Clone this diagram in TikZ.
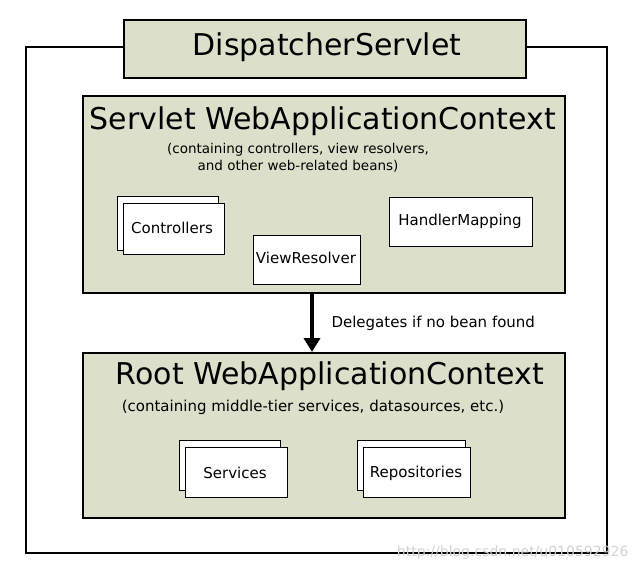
\documentclass[tikz,border=0pt]{standalone}
\usepackage{fontspec}
\setmainfont{DejaVu Sans}
\usetikzlibrary{arrows.meta}
\definecolor{ctx}{HTML}{DCE0CB}
\begin{document}
\begin{tikzpicture}[x=1pt,y=-1pt,
  box/.style={draw=black,line width=1.5pt,fill=ctx},
  bean/.style={draw=black,line width=0.9pt,fill=white},
  btxt/.style={font=\fontsize{15}{17}\selectfont}]
\useasboundingbox (0,0) rectangle (641,574);
\draw[line width=1.5pt] (26,47) rectangle (607,553);
\draw[box] (124,20) rectangle (526,78);
\node (ds) at (327,47) {\fontsize{30}{33}\selectfont DispatcherServlet};
\draw[box] (83,96) rectangle (565,293);
\node (swc) at (323,121) {\fontsize{30}{33}\selectfont Servlet WebApplicationContext};
\node[align=center,font=\fontsize{13.5}{17}\selectfont] (swcs) at (298,158) {(containing controllers, view resolvers,\\and other web-related beans)};
\draw[bean] (117,196) rectangle (218,250);
\draw[bean] (123,203) rectangle (224,254);
\node[btxt] (ctl) at (172,228) {Controllers};
\draw[bean] (253,235) rectangle (360,284);
\node[btxt] (vr) at (306,258) {ViewResolver};
\draw[bean] (389,197) rectangle (532,246);
\node[btxt] (hm) at (460,221) {HandlerMapping};
\draw[box] (83,353) rectangle (565,518);
\node (rwc) at (330,376) {\fontsize{30}{33}\selectfont Root WebApplicationContext};
\node[font=\fontsize{15}{17}\selectfont] (rwcs) at (313,407) {(containing middle-tier services, datasources, etc.)};
\draw[bean] (179,440) rectangle (280,490);
\draw[bean] (185,447) rectangle (287,497);
\node[btxt] (sv) at (235,473) {Services};
\draw[bean] (357,440) rectangle (465,490);
\draw[bean] (363,447) rectangle (470,497);
\node[btxt] (rp) at (416,473) {Repositories};
\coordinate (a1) at (312,294);
\coordinate (a2) at (312,352);
\draw[line width=4pt,-{Triangle[length=14pt,width=16pt]}] (a1) -- (a2);
\node[anchor=west,font=\fontsize{15}{17}\selectfont] (dl) at (328,323) {Delegates if no bean found};
\node[anchor=east,text=gray!35,font=\fontsize{14}{16}\selectfont] (wm) at (632,553) {http://blog.csdn.net/u010592926};
\end{tikzpicture}
\end{document}
